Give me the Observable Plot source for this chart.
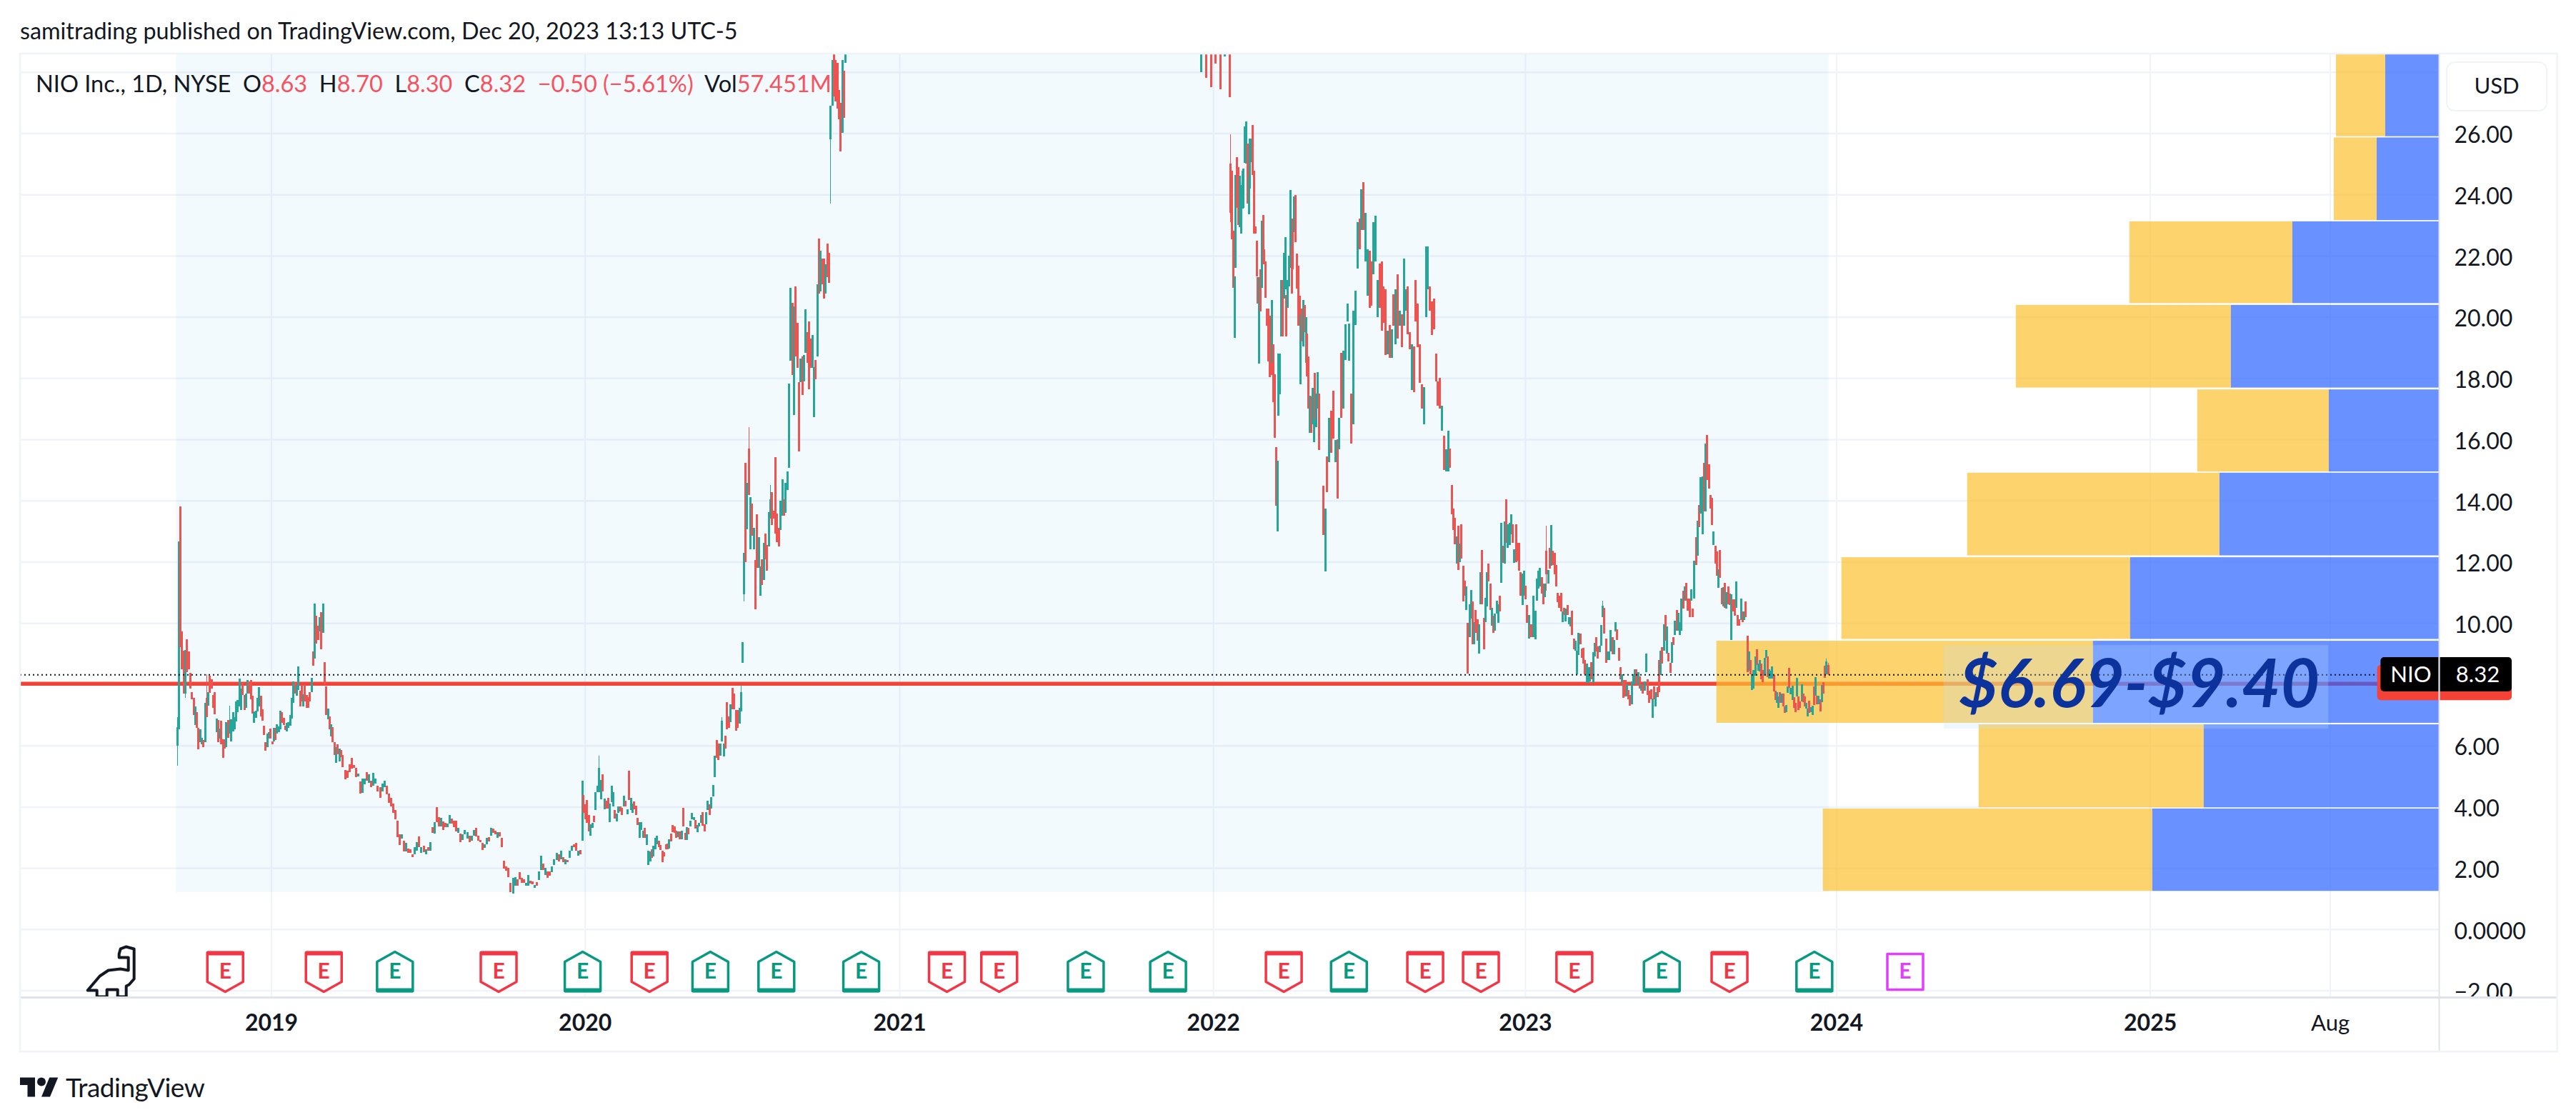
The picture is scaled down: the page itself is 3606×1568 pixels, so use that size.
<!DOCTYPE html>
<html><head><meta charset="utf-8">
<script src="https://cdn.jsdelivr.net/npm/d3@7"></script>
<script src="https://cdn.jsdelivr.net/npm/@observablehq/plot@0.6"></script>
<style>
html,body{margin:0;padding:0;background:#fff;}
body{font-family:"Lato",sans-serif;color:#131722;}
#page{position:relative;width:3606px;height:1568px;overflow:hidden;}
#head{height:75px;box-sizing:border-box;padding:24px 0 0 28px;font-size:32.3px;line-height:38px;white-space:nowrap;}
#chart svg{display:block;overflow:visible;}
#legend{position:absolute;left:50px;top:97px;font-size:32.5px;line-height:40px;white-space:pre;}
#legend b{font-weight:400;color:#F7525F;}
#usd{position:absolute;left:3424px;top:86px;width:142px;height:70px;box-sizing:border-box;border:2px solid #F0F3FA;border-radius:12px;text-align:center;font-size:31px;line-height:62px;}
#foot{position:absolute;left:28px;top:1505px;display:flex;align-items:center;gap:10px;font-size:37px;line-height:34px;letter-spacing:-.5px;}
</style></head><body>
<div id="page">
<div id="head">samitrading published on TradingView.com, Dec 20, 2023 13:13 UTC-5</div>
<div id="chart"></div>
<div id="legend">NIO Inc., 1D, NYSE  O<b>8.63</b>  H<b>8.70</b>  L<b>8.30</b>  C<b>8.32</b>  <b>−0.50 (−5.61%)</b>  Vol<b>57.451M</b></div>
<div id="usd">USD</div>
<div id="foot"><svg width="54" height="30" viewBox="0 3 36 20"><path fill="#131722" d="M14 22H7V11H0V4h14v18zM28 22h-8l7.5-18h8L28 22z"/><circle fill="#131722" cx="20" cy="8" r="4"/></svg><span>TradingView</span></div>
</div>
<script>
// ---- daily candles, [open, close] or [open, close, high, low]; each run is spread between two dates
const candles2018 = [[6,6.6,6.92,5.35],[6.53,12.67],[13.8,9.22],[9.73,8.48],[9.1,7.7],[7.7,9.13,9.13,7.55],[9.46,8.4],[9.07,8.48],[8.38,7.86],[7.74,7.5],[7.55,6.99],[6.67,7.27],[7.08,6.57],[6.57,5.87],[6.1,6.53],[6.03,6.26],[6.18,5.95],[6.1,7.39],[7.55,6.92,8.33,6.92],[7.3,7.74],[8.29,7.72],[8.17,7.86],[7.66,7.24],[7.74,7.02],[6.44,6.88],[6.84,6.1],[6.22,6.55],[6.8,6.03],[6.2,5.6],[6.2,5.9],[5.95,6.77],[6.83,6.26],[6.38,6.69,7.3,6.38],[6.14,6.86],[6.46,7.09],[6.53,6.92],[6.78,7.43],[7.1,7.48],[7.27,8.19],[7.16,7.86],[8.05,7.66],[7.64,7.16],[7.23,7.7],[7.7,8.15],[8.09,7.7],[8.13,7.5],[7.62,7.04],[6.73,7.12],[6.9,7.14],[7.12,7.55],[7.27,7.9],[7.62,6.96],[7.19,6.81],[6.65,6.34],[6.1,5.83],[5.95,6.38],[6.22,6.44],[6.55,6.22],[6.14,6.03],[6.14,6.57],[6.57,6.18],[6.38,6.69],[6.44,6.62],[6.53,7.14],[7.08,6.73],[6.91,6.67],[6.65,6.5],[6.45,6.75],[6.57,6.77],[6.65,7],[6.88,7.55],[7.39,8.09],[8.05,7.7],[7.62,7.95],[7.82,8.58],[7.78,7.27],[7.98,7.43],[7.27,7.67],[7.98,7.43],[7.66,7.23],[7.58,7.23],[7.74,7.43],[7.74,8.21],[9.07,8.6],[8.83,10.63],[10.24,9.34],[9.92,9.45],[9.73,10.2],[10.36,9.15],[9.69,10.63],[8.72,8],[7.93,7],[6.85,7.2],[6.96,6.53],[6.3,6.69],[6.61,6.1],[6.1,5.68],[5.44,5.95],[6.03,5.72],[5.47,5.91],[5.85,5.61],[5.68,5.29]];
const candles2019 = [[5.19,4.9],[5.17,4.94],[5.38,5.13],[5.59,5.24],[5.37,5.28],[5.28,4.96],[4.98,5.09],[4.82,4.42],[4.45,4.92],[4.73,4.93],[5.14,4.86],[4.79,5.06],[4.86,4.64],[4.69,5.11],[4.76,4.93],[4.68,4.51],[4.63,4.3],[4.51,4.75],[4.63,4.85],[4.68,4.4],[4.42,4.12],[4.28,4],[4.11,3.81],[3.89,3.58],[3.54,3],[3.11,2.74],[2.95,3.1],[2.88,2.55],[2.55,2.82],[2.64,2.49],[2.6,2.49],[2.45,2.36],[2.45,2.68],[2.57,2.84],[3.03,2.68],[2.49,2.68],[2.72,2.51],[2.45,2.62],[2.68,2.57],[2.57,2.84],[3.33,3.15],[3.13,3.5],[3.98,3.5],[3.66,3.35],[3.35,3.64],[3.52,3.25],[3.48,3.33],[3.33,3.46],[3.46,3.72],[3.62,3.44],[3.54,3.33],[3.54,3.19],[3.15,3.31],[3.13,2.85],[2.92,3.11],[3.1,3.23],[2.96,3.18],[3.05,2.84],[2.88,3.05],[3.05,3.23],[3.31,3.04],[3.05,2.89],[2.92,2.84],[2.81,2.58],[2.66,2.77],[2.78,2.99],[3.01,2.87],[3.05,3.3],[3.28,3.15],[3.22,3.1],[2.99,3.18],[3.17,3.03],[2.99,2.68],[2.24,1.98],[2.06,1.9],[2,1.71],[1.51,1.2],[1.16,1.67],[1.42,1.7],[1.63,1.42],[1.86,1.63],[1.67,1.51],[1.63,1.51],[1.42,1.51],[1.42,1.77],[1.59,1.49],[1.57,1.47],[1.34,1.45],[1.53,1.42],[1.6,1.88],[1.94,2.39],[2.14,1.94],[1.78,2.01],[1.88,1.67],[1.88,1.75],[1.86,2.05],[2.1,2.29],[2.25,2.49],[2.45,2.21],[2.29,2.56],[2.35,2.19],[2.11,2.29],[2.25,2.19],[2.33,2.57],[2.56,2.72],[2.78,2.68],[2.82,2.56],[2.41,2.56],[2.59,2.45],[2.88,4.85]];
const candles2020a = [[4.39,3.8],[4.08,3.59],[4.21,3.48],[3.73,3.2],[3.06,3.43],[3.3,3.48],[3.71,3.49],[3.9,4.47],[4.47,4.68],[4.47,5.27,5.67,4.47],[4.24,4.88],[5.05,4.5],[3.92,4.27],[4.2,3.94],[4.29,3.94],[3.5,4.1],[4.15,4.68],[4,4.47],[3.89,3.62],[3.51,3.78],[3.8,4.02],[4.02,3.84],[3.96,3.74],[4,4.37],[4.19,4],[3.75,3.92],[5.17,4.23],[3.9,4.28],[3.79,4.1],[4.17,3.91],[4.04,3.73],[3.64,3.4],[2.99,3.5],[3.25,3.5],[2.99,3.22],[3.3,2.99],[2.75,3.1],[2.09,2.56],[2.22,2.53],[2.62,2.34],[2.37,2.73],[2.6,2.99],[2.77,3.05],[2.88,2.68],[2.76,2.58],[2.56,2.2],[2.51,2.38],[2.78,2.6],[2.79,2.62],[2.63,2.94],[3.13,2.87],[3.4,3.17],[3.36,3.15],[3.22,2.99],[3,3.19],[3.19,2.94],[2.94,3.22],[3.96,3.35],[3.15,2.92],[2.92,3.33],[3.31,3.11],[3.36,3.55],[3.6,3.8],[3.56,3.67],[3.57,3.29],[3.16,3.41],[3.35,3.47],[3.47,3.73],[3.82,3.39],[3.43,3.2],[3.43,3.82],[3.9,4.19],[4.07,3.74],[3.94,4.31],[4.33,4.7],[4.97,5.67],[6.18,5.6],[6.06,5.52],[5.67,6.06],[6.14,6.8,6.92,6.14],[5.64,6.06],[6.31,5.9],[7.41,6.53],[6.96,6.57],[6.76,7.35],[7.88,7.19],[7.69,7.19],[7.15,6.49],[7.15,6.57],[6.71,7.23],[7.11,7.74,7.97,7.11],[8.69,9.37]];
const candles2020b = [[10.93,12.29,12.29,10.7],[15.24,12],[13.07,14.58],[15.69,14.19,16.4,14.19],[12.4,14.1],[13.9,12.86],[12.4,13.12],[12.05,10.45],[13.55,11.8],[11.8,12.8],[10.9,11.85],[12.08,11.25],[11.4,12.62],[12.92,12.08],[12.56,11.7],[12.5,13.63],[13.4,14.05,14.5,13.4],[14.28,13.2],[13.66,13.4],[15.42,12.92],[13.57,12.64],[13.1,12.5],[13.04,14],[13.5,14.7],[14.05,13.5],[13.6,14.58],[14.34,14.95],[15.06,17.83],[18.57,20.95],[20.45,18.1],[16.8,20.33],[21,18.7],[19.8,18.33],[17.86,15.6],[17.86,18.63],[18.7,17.44],[17.88,18.75],[18.83,20.24],[19.5,18.5],[19.85,17.64],[19.28,18.33],[18.33,19.4],[16.73,18.36],[18.6,17.95],[18.7,21.07],[22.56,20.77],[20.83,22.15],[21.9,21.07],[21.9,20.6],[20.77,21.72],[22.4,21.3],[22.1,21.1],[25.8,26.9,26.9,23.7],[26.9,28.4,28.4,26.9],[29,27.2],[28.4,27.03],[28.3,26.8],[27.4,26.45],[27,25.4],[26,28.4],[28.04,26.5],[28.3,29]];
const candles2021 = [[28,29],[29,27.8],[29,27.5],[29,28.27],[29,27.44],[28.5,29],[29,27.18]];
const candles2022a = [[25,23.39,25.96,23.1],[24.77,22.54],[22.82,20.94],[19.32,21.33],[21.6,24.64],[25.22,23.57],[24.9,23],[22.93,24.6],[22.73,24.3],[23.53,24.78],[23.55,24.84],[25.03,26.23],[25.01,26.39],[25.67,23.7],[23.34,24.54],[24.2,25.82],[25.05,25.82],[26.27,24.64],[24.77,22.73],[22.95,22.73],[22.48,21.33],[21.3,20.44],[18.47,21.3],[21.56,20.18],[20.94,23.14],[23.33,21.72],[22.2,21.72],[21.8,20.63],[20.28,19.71],[20.28,18.55],[20.03,18.02],[19.28,18.1],[18.5,20.55],[19.1,17.22],[18.12,16.05],[15.74,13.83],[13,15.3],[16.78,18.8],[17.47,18.8],[19.35,21.2],[21.2,19.35],[20.6,22.1],[20.9,22.6],[20.72,19.35],[20.3,21.2],[21,22],[21.6,24.15],[22.3,20.77],[23.2,21.56],[22.77,23.94],[23.97,22.44],[22.07,20.93],[21.67,19.7],[20.7,19.8],[17.8,20.05],[20.26,19.2],[19.03,20.55],[20.38,19.5],[18.5,20],[19.45,18.06],[18.7,17],[16.2,17.42],[17.4,16.2],[16.5,17.67],[15.9,17.24],[18.18,16.65],[16.4,17.5],[17,18.2],[17.5,15.65]];
const candles2022b = [[14.48,12.87],[11.68,13.73],[15.43,14.27],[15.26,16.7],[16.93,15.55],[17.58,16.03],[15.26,15.98],[16,14.06],[15.67,16.7],[18.83,16.7],[17,18.9],[18.6,19.76],[19.85,20.44],[18.56,19.78],[17.5,15.85],[16.5,20.2],[19.73,20.86],[21.57,23.1],[23.2,22.2],[22.83,24.16],[24.4,22.83],[21.8,23.4],[20.7,22.2],[22.17,20.3],[21.8,20.37],[21.4,23.1],[21.8,23.3],[20,21.2],[21.75,20.3],[21.8,19.55],[21,19.8],[20.9,18.76],[18.77,19.55],[19.74,18.66],[18.66,19.6],[20.74,19.7],[19.1,20.9],[21.4,19.3],[19.7,20.2],[20.08,19],[19.7,21.9],[20.2,20.9],[21,19.44],[19.5,18.93],[17.6,19.1],[19.03,17.54],[21.2,19.84],[20.43,19],[19.1,17.85],[17.8,17],[16.5,17.7],[20,22.3],[20.9,22.3],[21,20.2],[20.5,19.4],[20.6,19.6],[18.8,17.9],[17.9,17.1],[18,17],[16.28,17.1],[16.12,15],[14.96,15.67],[14.96,16.28],[15.7,15.06]];
const candles2023a = [[14.5,13.54],[13.74,13.04],[13.43,12.57],[11.95,12.84],[13.17,11.74],[12,12.59],[13.22,12.1],[11.87,10.7],[11.39,10.9],[10.43,11.2],[10,8.36],[9.53,10.62],[10.14,11.09],[10.7,9.3],[9.3,10.04],[10.43,9.69],[10.12,9.42],[9,9.96],[10.62,11.67],[12.38,10.62],[10.18,9.14],[10.04,10.82],[10.55,11.67],[11.95,11.36],[11.29,10.43],[9.92,10.5],[10.23,9.69],[9.75,10.31],[10.31,10.74],[10,10.62],[10.9,10.39],[11.32,13.27],[12.53,11.96],[11.95,13.31],[14.03,12.61],[12.45,13.23],[12.55,13.27],[12.9,13.54],[13.23,12.61],[11.96,12.4],[13.23,12],[12.61,12.03],[12.61,11.7],[11.66,10.89],[10.6,11.62],[10.89,11.7],[11.23,10.77],[10.58,10],[9.5,10.27],[9.96,9.53],[9.96,9.53],[9.53,10.9],[9.46,10.4],[10.74,11.46],[11.13,11.7],[11.2,11.8],[11.5,10.97],[11.28,10.62],[10.85,11.3],[12.37,11.6,13.19,11.05],[11.28,11.74],[12.46,11.77],[11.88,13.2],[12.36,11.9],[12.3,11.6],[11.9,11.2],[10.99,10.68],[10.9,10.5],[10.99,10.39],[10.02,10.39],[10.5,10.27],[10.05,10.47],[10.6,10.27],[9.96,10.2],[9.9,10.2],[10.4,9.6],[9.5,9.15],[9.1,9.43],[8.33,9.1],[8.95,9.69],[9.65,9.3],[9.16,8.86],[9.2,8.68],[8.79,8.33],[8.05,8.68],[8.05,8.57],[8.1,8.55],[8.72,8.16],[8.05,9.05],[8.91,9.35],[9.53,9.07],[9.24,8.83],[9.06,9.25],[9.25,9.93],[10.2,10.57,10.74,10.2],[10.5,9.66],[9.5,8.7],[8.8,9.07],[8.8,9.07],[9.07,9.77],[9.53,8.99],[8.99,9.45],[9.72,10.02],[9.8,9.45],[9.2,8.76],[8.56,8.16],[8.01,8.32],[8.14,7.55],[8.14,7.6],[7.6,8.01],[7.82,7.5],[7.66,7.31],[7.35,8.09],[8.01,8.32],[8.01,8.5],[8.48,7.98],[7.98,8.4],[8.25,7.86],[7.78,8.01],[7.97,7.7],[7.8,8.1],[8.4,9],[8.17,7.66],[7.78,7.4],[7.84,7.5],[6.9,7.53],[7.93,7.5],[7.27,7.74],[7.9,7.58],[8.79,7.74],[8.3,9.1],[9.22,8.68],[9.1,9.97],[10.27,9.42],[9,9.89],[9.03,8.74],[8.7,8.37],[8.71,9.37],[9.55,9.28],[9.6,10.07],[10.43,9.75],[9.75,10.33],[9.6,10.02],[9.75,10.8],[11.05,10.47],[10.74,11.2],[11.32,10.74],[10.8,10.4],[10.8,10.2],[10.74,11.1],[10.47,10.2],[10.8,12.03],[12.8,11.9],[12.2,13.35],[13.85,13.13],[13.58,14.77],[12.9,14.78],[15.22,13.65],[13.65,15.85],[16.15,14.66],[15.18,14.4],[14.17,13.74],[14.08,13.2],[12.55,13],[12.53,11.95],[12.34,11.54],[11.14,11.75],[12.38,11.47],[11.14,10.62],[10.55,11.17],[11.32,10.5],[10.48,11],[11.2,10.62],[10.97,10.58],[9.45,10.93],[10.77,10.39],[10.77,10.25],[10.5,11.35],[10.27,9.92],[10.12,9.92],[10.1,10.8],[10.39,10.04],[10.1,10.37],[10.7,10.2]];
const candles2023b = [[9.59,8.4],[8.44,9.07],[8.79,8.33],[7.81,8.33],[7.85,8.47],[8.29,8.91],[9.14,8.64],[8.45,8.68],[8.41,8.79],[8.67,8.16],[8.47,8.06],[8.29,8.87],[8.87,9.12],[8.9,8.24],[8.19,8.48],[8.19,8.45],[8.19,8.58],[8.3,7.77],[7.78,7.49],[7.4,7.74],[7.24,7.6],[7.74,7.4],[7.4,7.69],[7.69,7.28],[7.28,7.06],[7.09,7.32],[7.73,7.93],[8.53,7.89],[7.67,7.89],[7.48,7.95],[7.59,7.24],[7.4,7.09],[7.6,8.2],[7.6,7.17],[7.45,7.23],[7.45,8],[7.69,7.42],[7.6,7.28],[7.2,7.4],[6.95,7.2],[7.46,7.07],[7.09,7.26],[6.99,7.3],[7.93,7.33],[7.63,8.24],[7.63,7.35],[7.35,7.63],[7.5,7.11],[7.41,7.97],[8.07,7.7],[8.6,8.21],[8.33,8.74,8.84,8.33],[8.63,8.32,8.7,8.3]];
const candleRuns = [
  ["2018-09-14","2019-03-26",candles2018],["2019-03-29","2019-12-31",candles2019],
  ["2020-01-01","2020-07-05",candles2020a],["2020-07-06","2020-11-02",candles2020b],
  ["2021-12-22","2022-01-24",candles2021],["2022-01-25","2022-05-08",candles2022a],
  ["2022-05-13","2022-10-08",candles2022b],["2022-10-10","2023-09-18",candles2023a],
  ["2023-09-20","2023-12-23",candles2023b]];

// ---- volume profile rows
const vpLow  = [1.25,3.98,6.74,9.48,12.21,14.95,17.69,20.45,23.16,25.9];
const vpHigh = [3.94,6.69,9.42,12.15,14.91,17.63,20.39,23.12,25.86,28.6];
const vpUp   = [401,329,484,432,307,154,291,205,87,75];
const vpDown = [461,315,527,404,353,184,301,228,60,69];

// ---- levels, ticks, events
const lastPrice = 8.32, supportLevel = 8.03, rangeLabel = "$6.69-$9.40";
const priceTicks = [-2,0,2,4,6,10,12,14,16,18,20,22,24,26];
const gridPrices = [-2,0,2,4,6,8,10,12,14,16,18,20,22,24,26,28];
const yearTicks = ["2019-01-02","2020-01-03","2021-01-04","2022-01-05","2023-01-04","2024-01-02","2025-01-02"];
const monthTick = "2025-07-31";
const earningsBeat = ["2019-05-26","2019-12-31","2020-05-28","2020-08-13","2020-11-20","2021-08-09","2021-11-13","2022-06-12","2023-06-12","2023-12-07"];
const earningsMiss = ["2018-11-09","2019-03-04","2019-09-24","2020-03-18","2021-02-28","2021-04-30","2022-03-28","2022-09-09","2022-11-13","2023-03-02","2023-08-30"];
const earningsNext = ["2024-03-22"];
const iconPrice = -1.38;

const RED="#EF5350", GREEN="#26A69A", INK="#131722", GRID="#F0F3FA", AXIS="#E0E3EB";
const U = s => new Date(s+"T12:00:00Z");
const xStart=U("2018-03-15"), xEnd=U("2025-12-05"), frameEnd=U("2026-04-22");
const yTop=28.6, yBottom=-2.22, frameBottom=-4.0;

const rows = candleRuns.flatMap(([a,b,list]) => {
  const t0=+U(a), t1=+U(b);
  return list.map((c,i)=>({date:new Date(t0+(t1-t0)*i/(list.length-1)),open:c[0],close:c[1],
    high:c.length>2?c[2]:Math.max(c[0],c[1]),low:c.length>2?c[3]:Math.min(c[0],c[1]),
    color:c[1]>=c[0]?GREEN:RED}));
});
const DAY=864e5;
const vp = vpLow.map((lo,i)=>({lo,hi:vpHigh[i],
  blue:new Date(+xEnd-vpUp[i]/1.1994*DAY),
  yellow:new Date(+xEnd-(vpUp[i]+vpDown[i])/1.1994*DAY)}));

const poly = pts => ({draw(ctx,size){const k=Math.sqrt(size/Math.PI)/25;
  pts.forEach(([x,y],i)=>i?ctx.lineTo(x*k,y*k):ctx.moveTo(x*k,y*k));ctx.closePath();}});
const flagDown=poly([[-25,-27],[25,-27],[25,14],[0,28],[-25,14]]);
const barTop=poly([[-25,-29],[25,-29],[25,-23],[-25,-23]]);
const house=poly([[0,-28],[25,-14],[25,27],[-25,27],[-25,-14]]);
const barBottom=poly([[-25,23],[25,23],[25,29],[-25,29]]);
const square=poly([[-25,-25],[25,-25],[25,25],[-25,25]]);
const dino=poly([[13,-32],[21,-35],[32,-32],[32,10],[25,18],[21,20],[21,35],[9,35],[9,25],[-6,25],[-6,35],[-20,35],[-20,26],[-33,26],[-16,6],[-4,-2],[13,-4],[24,-2],[24,-20],[11,-20],[11,-25]]);
const ev = a => a.map(U);
const eText=(a,c)=>Plot.text(ev(a),{x:d=>d,y:()=>iconPrice,text:()=>"E",fill:c,fontSize:30,fontWeight:"bold",fontFamily:"Lato"});

const chart = Plot.plot({
  width:3606,height:1398,marginTop:0,marginBottom:77,marginLeft:28,marginRight:192,
  style:{fontFamily:"Lato",background:"transparent",color:INK,overflow:"visible"},
  x:{type:"utc",domain:[xStart,xEnd]},
  y:{domain:[yBottom,yTop]},
  marks:[
    Plot.ruleX(yearTicks.map(U).concat([U(monthTick)]),{stroke:GRID,strokeWidth:2}),
    Plot.ruleY(gridPrices,{stroke:GRID,strokeWidth:2.5}),
    Plot.rect([0],{x1:()=>U("2018-09-13"),x2:()=>U("2023-12-24"),y1:()=>1.21,y2:()=>yTop,fill:"#00A0E0",fillOpacity:.05}),
    Plot.ruleY([supportLevel],{stroke:"#F44336",strokeWidth:5.5}),
    Plot.rect(vp,{x1:"yellow",x2:"blue",y1:"lo",y2:"hi",fill:"#FBC02D",fillOpacity:.7}),
    Plot.rect(vp,{x1:"blue",x2:()=>xEnd,y1:"lo",y2:"hi",fill:"#2962FF",fillOpacity:.7}),
    Plot.ruleX(rows,{x:"date",y1:"low",y2:"high",stroke:"color",strokeWidth:1,clip:true,shapeRendering:"crispEdges"}),
    Plot.ruleX(rows,{x:"date",y1:"open",y2:"close",stroke:"color",strokeWidth:3,clip:true,shapeRendering:"crispEdges"}),
    Plot.ruleY([lastPrice],{stroke:INK,strokeWidth:2,strokeDasharray:"2 4",x1:()=>xStart,x2:()=>U("2025-09-28")}),
    Plot.rect([0],{x1:()=>U("2024-05-06"),x2:()=>U("2025-07-29"),y1:()=>6.55,y2:()=>9.28,fill:"#BBDEFB",fillOpacity:.25}),
    Plot.text([rangeLabel],{x:()=>U("2024-12-20"),y:()=>7.97,text:d=>d,fontSize:94,fontWeight:"bold",fontStyle:"italic",fontFamily:"Lato",fill:"#0C339B"}),
    // price label with the level ribbon behind it
    Plot.rect([0],{x1:()=>U("2025-09-24"),x2:()=>U("2026-02-28"),y1:()=>7.48,y2:()=>8.63,fill:"#F44336",rx:5}),
    Plot.rect([0],{x1:()=>U("2025-09-28"),x2:()=>U("2026-02-28"),y1:()=>7.765,y2:()=>8.885,fill:"#000",rx:5}),
    Plot.ruleX([xEnd],{y1:7.5,y2:8.885,stroke:"#fff",strokeWidth:1.5}),
    Plot.text(["NIO"],{x:()=>U("2025-11-02"),y:()=>8.32,text:d=>d,fill:"#fff",fontSize:31}),
    Plot.text(["8.32"],{x:()=>U("2026-01-19"),y:()=>8.32,text:d=>d,fill:"#fff",fontSize:31}),
    // earnings
    Plot.dot(ev(earningsMiss),{x:d=>d,y:()=>iconPrice,symbol:flagDown,r:25,fill:"#fff",stroke:"#F23645",strokeWidth:3.5,strokeLinejoin:"round"}),
    Plot.dot(ev(earningsMiss),{x:d=>d,y:()=>iconPrice,symbol:barTop,r:25,fill:"#F23645"}),
    Plot.dot(ev(earningsBeat),{x:d=>d,y:()=>iconPrice,symbol:house,r:25,fill:"#fff",stroke:"#089981",strokeWidth:3.5,strokeLinejoin:"round"}),
    Plot.dot(ev(earningsBeat),{x:d=>d,y:()=>iconPrice,symbol:barBottom,r:25,fill:"#089981"}),
    Plot.dot(ev(earningsNext),{x:d=>d,y:()=>iconPrice,symbol:square,r:25,fill:"#fff",stroke:"#E040FB",strokeWidth:3.5,strokeLinejoin:"round"}),
    eText(earningsMiss,"#F23645"),eText(earningsBeat,"#089981"),eText(earningsNext,"#E040FB"),
    Plot.dot(["2018-06-29"].map(U),{x:d=>d,y:()=>iconPrice,symbol:dino,r:25,fill:"none",stroke:INK,strokeWidth:4,strokeLinejoin:"round"}),
    // axes
    Plot.axisY({anchor:"right",ticks:priceTicks,tickSize:0,tickPadding:21,fontSize:32,fill:INK,label:null,dy:3,
      tickFormat:d=>d===0?"0.0000":(d<0?"−":"")+Math.abs(d).toFixed(2)}),
    Plot.rect([0],{x1:()=>xEnd,x2:()=>frameEnd,y1:()=>yBottom,y2:()=>frameBottom,fill:"#fff"}),
    Plot.axisX({ticks:yearTicks.map(U),tickFormat:d3.utcFormat("%Y"),tickSize:0,tickPadding:24,fontSize:32,fontWeight:"bold",fill:INK,label:null}),
    Plot.axisX({ticks:[U(monthTick)],tickFormat:()=>"Aug",tickSize:0,tickPadding:24,fontSize:31,fill:INK,label:null}),
    // frame
    Plot.ruleX([xEnd],{y1:frameBottom,y2:yTop,stroke:AXIS,strokeWidth:2}),
    Plot.ruleY([yBottom],{x1:()=>xStart,x2:()=>frameEnd,stroke:AXIS,strokeWidth:3}),
    Plot.rect([0],{x1:()=>xStart,x2:()=>frameEnd,y1:()=>frameBottom,y2:()=>yTop,fill:"none",stroke:GRID,strokeWidth:2.5})
  ]
});
document.getElementById("chart").appendChild(chart);
</script>
</body></html>
